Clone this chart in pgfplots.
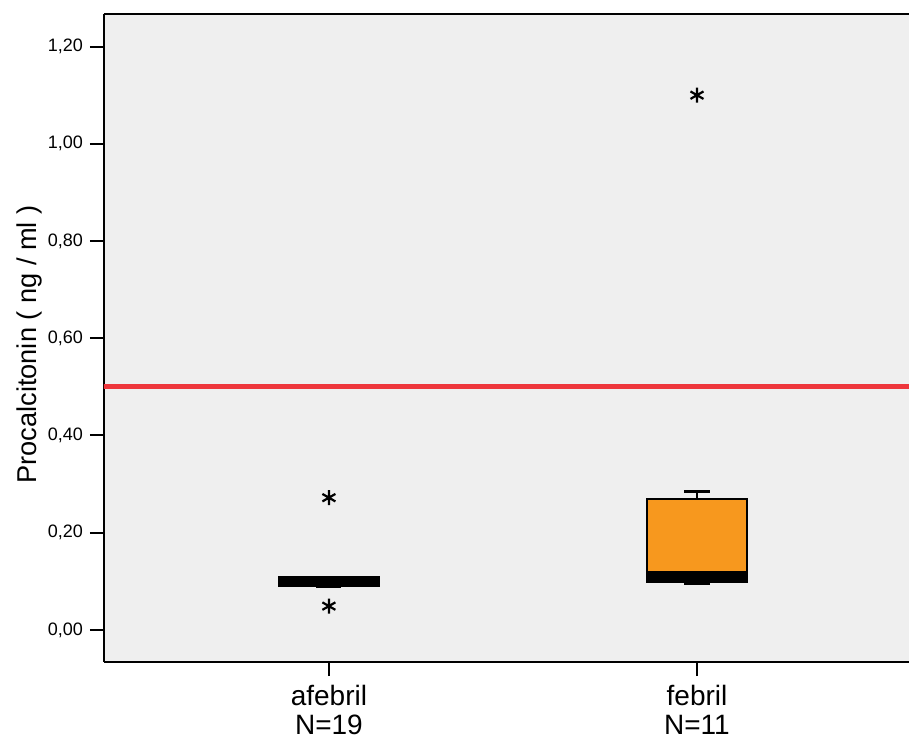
\documentclass[border=0pt]{standalone}
\usepackage{fontspec}
\setmainfont{Liberation Sans}
\usepackage{pgfplots}
\pgfplotsset{compat=1.18}
\usepgfplotslibrary{statistics}
\definecolor{bgc}{RGB}{239,239,239}
\definecolor{refred}{RGB}{238,54,60}
\definecolor{boxorange}{RGB}{247,152,30}
\begin{document}
\begin{tikzpicture}
\begin{axis}[
  scale only axis,
  width=402.5pt, height=324pt,
  xmin=-0.611, xmax=1.576,
  ymin=-0.066, ymax=1.267,
  boxplot/draw direction=y,
  axis background/.style={fill=bgc},
  separate axis lines,
  axis x line=box, axis y line=left,
  axis line style={-, line width=1pt, black},
  xtick pos=bottom, ytick pos=left,
  tick align=outside,
  major tick length=7pt,
  tick style={line width=1pt, black},
  xtick={0,1},
  xticklabels={{afebril\\N=19},{febril\\N=11}},
  xticklabel style={align=center, font=\fontsize{14}{14.5}\selectfont, yshift=-1pt},
  ytick={0,0.2,0.4,0.6,0.8,1.0,1.2},
  yticklabels={{0,00},{0,20},{0,40},{0,60},{0,80},{1,00},{1,20}},
  yticklabel style={font=\fontsize{9}{10}\selectfont},
  ylabel={Procalcitonin ( ng / ml )},
  ylabel style={at={(axis description cs:-0.092,0.49)}, anchor=center, font=\fontsize{13.6}{15}\selectfont},
  clip=true,
]
\addplot[refred, line width=2.6pt, forget plot] coordinates {(-0.7,0.5) (1.7,0.5)};

\addplot[
  boxplot prepared={
    draw position=0,
    lower whisker=0.0885, lower quartile=0.0905, median=0.100,
    upper quartile=0.1097, upper whisker=0.105,
    box extend=0.27, whisker extend=0.068,
    every median/.style={line width=4.7pt},
    every whisker/.style={line width=1.3pt},
  },
  draw=black, fill=black, line width=1pt, solid,
  mark=asterisk, mark size=3.75pt, mark options={black, line width=1.1pt},
] coordinates {(0,0.272) (0,0.049)};

\addplot[
  boxplot prepared={
    draw position=1,
    lower whisker=0.095, lower quartile=0.0994, median=0.110,
    upper quartile=0.2695, upper whisker=0.285,
    box extend=0.27, whisker extend=0.068,
    every median/.style={line width=5.3pt},
    every whisker/.style={line width=1.3pt},
  },
  draw=black, fill=boxorange, line width=1pt, solid,
  mark=asterisk, mark size=3.75pt, mark options={black, line width=1.1pt},
] coordinates {(1,1.10)};
\end{axis}
\pgfresetboundingbox
\useasboundingbox ([xshift=-52pt,yshift=-38pt]current axis.south west) rectangle ([yshift=7pt]current axis.north east);
\end{tikzpicture}
\end{document}
